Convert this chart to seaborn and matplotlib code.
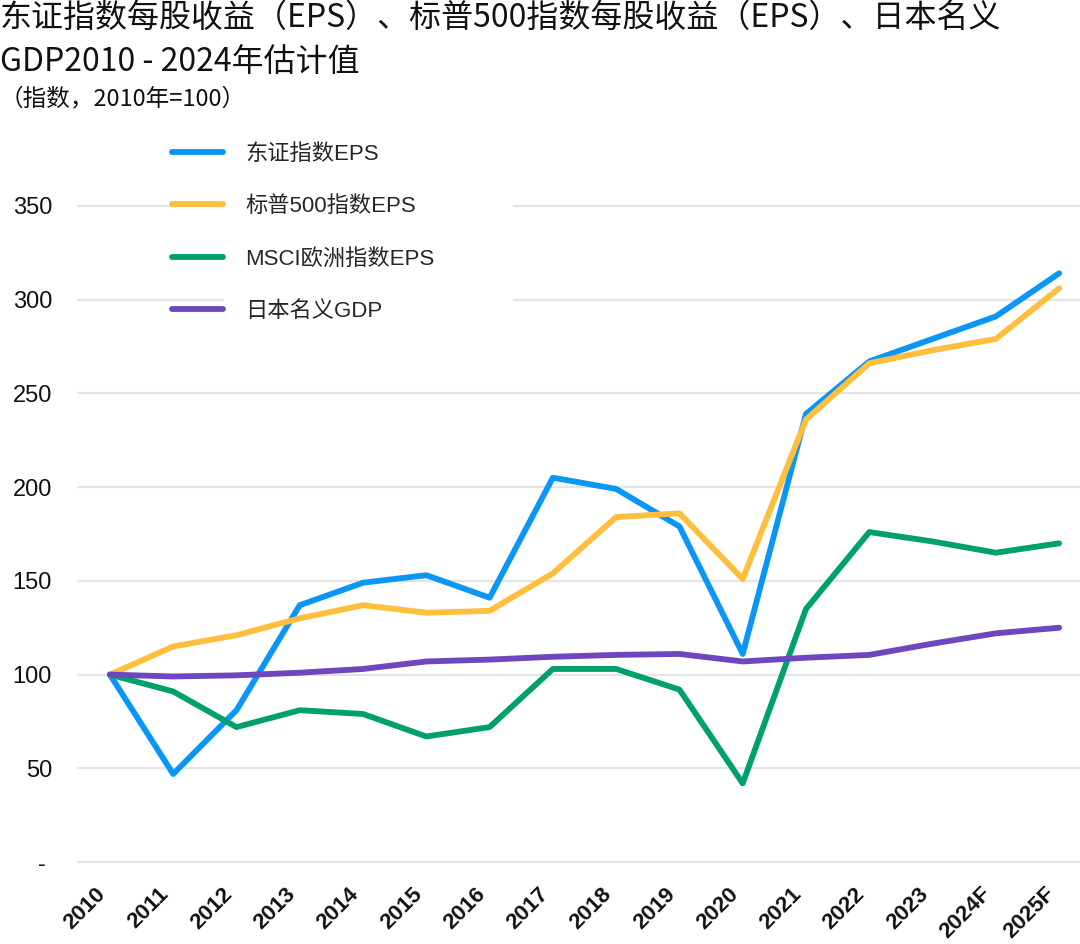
import numpy as np
import pandas as pd
import matplotlib
matplotlib.use('Agg')
import matplotlib.pyplot as plt
from matplotlib.patches import Rectangle
import seaborn as sns

# index values, 2010 = 100
years = ['2010', '2011', '2012', '2013', '2014', '2015', '2016', '2017',
         '2018', '2019', '2020', '2021', '2022', '2023', '2024F', '2025F']
topix_eps = [100, 47, 81, 137, 149, 153, 141, 205, 199, 179, 111, 239, 267, 279, 291, 314]
sp500_eps = [100, 115, 121, 130, 137, 133, 134, 154, 184, 186, 151, 236, 266, 273, 279, 306]
msci_eu_eps = [100, 91, 72, 81, 79, 67, 72, 103, 103, 92, 42, 135, 176, 171, 165, 170]
japan_gdp = [100, 99, 99.6, 101, 103, 107, 108, 109.5, 110.5, 111, 107, 109, 110.5, 116.5, 122, 125]

names = ['东证指数EPS', '标普500指数EPS', 'MSCI欧洲指数EPS', '日本名义GDP']
colors = ['#0a96f5', '#ffbe3c', '#00a06e', '#6e46be']
yticks = [0, 50, 100, 150, 200, 250, 300, 350]
ytick_labels = ['- ', '50', '100', '150', '200', '250', '300', '350']

sns.set_theme(style='white')
plt.rcParams['font.family'] = ['Liberation Sans', 'Noto Sans CJK SC']
cjk = ['Noto Sans CJK SC', 'DejaVu Sans']

n = len(years)
df = pd.DataFrame({
    'x': np.tile(np.arange(n), len(names)),
    'value': np.concatenate([topix_eps, sp500_eps, msci_eu_eps, japan_gdp]),
    'series': np.repeat(names, n),
})

fig = plt.figure(figsize=(10.8, 9.44), dpi=100)
ax = fig.add_axes([77 / 1080, 80 / 944, 1003 / 1080, 752 / 944])

sns.lineplot(data=df, x='x', y='value', hue='series', hue_order=names,
             palette=colors, linewidth=4.2, solid_capstyle='round', ax=ax)

ax.set_xlim(-0.52, 15.33)
ax.set_ylim(-1, 400)
ax.grid(axis='y', color='#e4e4e4', linewidth=1.6)
ax.grid(axis='x', visible=False)
ax.set_axisbelow(True)
sns.despine(ax=ax, left=True, bottom=True)
ax.set_xlabel('')
ax.set_ylabel('')

ax.set_yticks(yticks)
ax.set_yticklabels(ytick_labels)
ax.tick_params(axis='y', length=0, pad=18, labelsize=17, labelcolor='#111111')
ax.set_xticks(range(n))
ax.set_xticklabels(years, rotation=45, ha='right', fontweight='bold')
ax.tick_params(axis='x', length=0, pad=14, labelsize=16, labelcolor='#111111')

# white patch behind legend text (gridlines stop there)
ax.add_patch(Rectangle((0.1466, 0.703), 0.288, 0.28, transform=ax.transAxes,
                       facecolor='white', edgecolor='none', zorder=1))

handles, labels = ax.get_legend_handles_labels()
leg = ax.legend(handles, labels, loc='upper left', bbox_to_anchor=(0.0947, 0.958),
                frameon=False, fontsize=16, handlelength=2.3, handletextpad=1.0,
                labelspacing=1.42, borderpad=0, borderaxespad=0)
for line in leg.get_lines():
    line.set_linewidth(4.2)
    line.set_solid_capstyle('round')

fig.text(0.0, 1 - 18 / 944, '东证指数每股收益（EPS）、标普500指数每股收益（EPS）、日本名义',
         fontsize=23, va='center', ha='left', family=cjk, color='#111111')
fig.text(0.0, 1 - 63 / 944, 'GDP2010 - 2024年估计值',
         fontsize=23, va='center', ha='left', family=cjk, color='#111111')
fig.text(0.0, 1 - 99 / 944, '（指数，2010年=100）',
         fontsize=17, va='center', ha='left', family=cjk, color='#111111')

fig.savefig('out.png', dpi=100, facecolor='white')
